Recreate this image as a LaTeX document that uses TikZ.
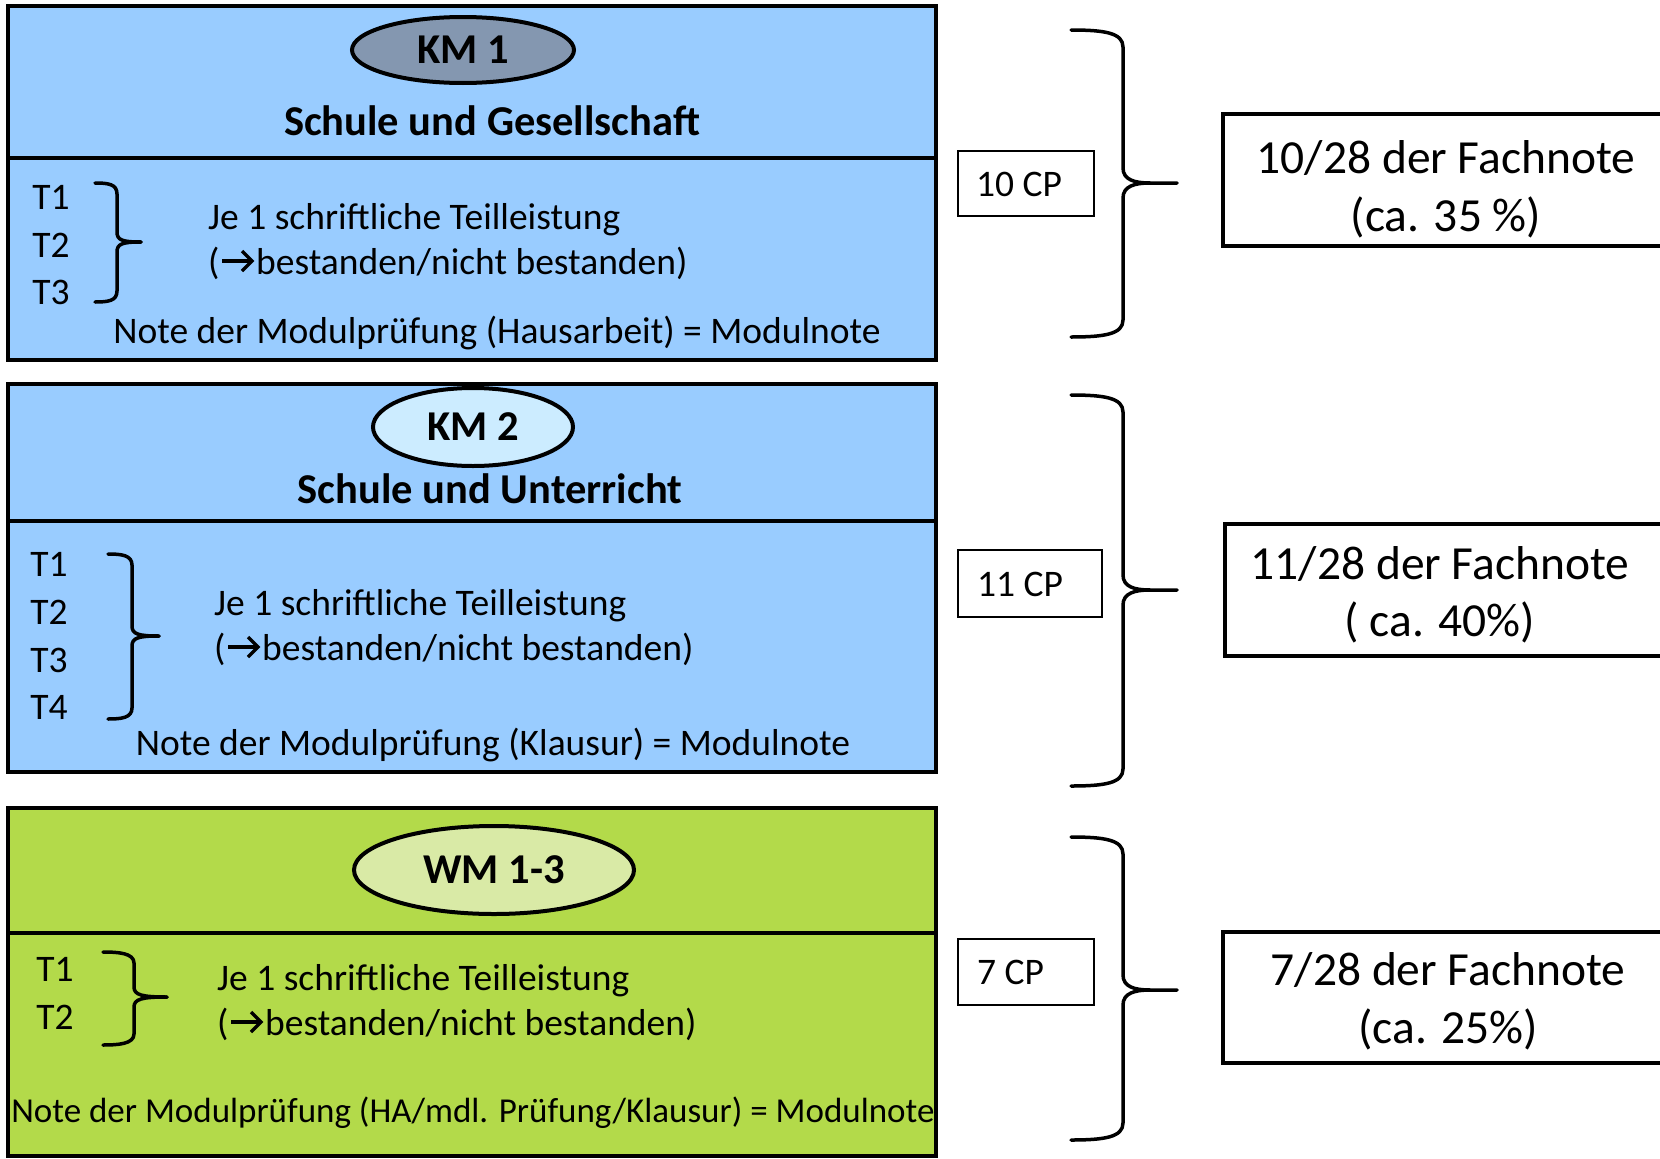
\documentclass[tikz,border=0pt]{standalone}
\usepackage{fontspec}
\setmainfont{Carlito}
\usetikzlibrary{shapes.geometric,calc}
\definecolor{boxblue}{HTML}{99CCFF}
\definecolor{boxgreen}{HTML}{B3DA4A}
\definecolor{ellgray}{HTML}{8497B0}
\definecolor{ellblue}{HTML}{CCECFF}
\definecolor{ellgreen}{HTML}{D9EAA6}
\newcommand\bodyfs{\fontsize{37.5}{44}\selectfont}
\newcommand\notefs{\fontsize{35}{42}\selectfont}
\newcommand\headfs{\fontsize{42.5}{50}\selectfont\bfseries}
\newcommand\bigfs{\fontsize{47.5}{56}\selectfont}
\begin{document}
\begin{tikzpicture}[x=1pt,y=-1pt,
  modbox/.style={draw=black,line width=4pt},
  divline/.style={draw=black,line width=4pt},
  modell/.style={ellipse,draw=black,line width=4pt,inner sep=0pt,font=\headfs},
  txt/.style={inner sep=0pt,font=\bodyfs},
  head/.style={inner sep=0pt,font=\headfs},
  bigtxt/.style={inner sep=0pt,font=\bigfs},
  cpbox/.style={draw=black,line width=1.3pt},
  resbox/.style={draw=black,line width=4.5pt},
  bracel/.style={draw=black,line width=3.5pt,line cap=round,line join=round},
  arrline/.style={draw=black,line width=3.4pt,line join=miter}
]
\useasboundingbox (0,0) rectangle (1660,1159);
\clip (0,0) rectangle (1660,1159);
\fill[white] (0,0) rectangle (1660,1159);

% ---------- Box 1 ----------
\path[modbox,fill=boxblue] (8,6) rectangle (936,360);
\draw[divline] (8,158) -- (938,158);
\node[modell,fill=ellgray,minimum width=222,minimum height=66] (km1) at (463,50) {KM 1};
\node[head,anchor=base] (h1) at (492,135) {Schule und Gesellschaft};
\node[txt,anchor=base] (a1) at (51,209) {T1};
\node[txt,anchor=base] (a2) at (51,257) {T2};
\node[txt,anchor=base] (a3) at (51,304) {T3};
\coordinate (s1t) at (95,183);
\coordinate (s1b) at (95,302);
\coordinate (s1m) at (141,242);
\draw[bracel] (s1t) .. controls (108,183) and (117,184) .. (117,194) -- (117,232) .. controls (117,240) and (122,242) .. (s1m);
\draw[bracel] (s1b) .. controls (108,302) and (117,301) .. (117,291) -- (117,252) .. controls (117,244) and (122,242) .. (s1m);
\node[txt,anchor=base west] (j1a) at (208,229) {Je 1 schriftliche Teilleistung};
\node[txt,anchor=base west] (p1) at (208,274) {(};
\coordinate (p1s) at (222,261);
\coordinate (p1e) at (252,261);
\draw[arrline] (p1s) -- (p1e);
\draw[arrline] ($(p1e)+(-10,-10)$) -- (p1e) -- ($(p1e)+(-10,10)$);
\node[txt,anchor=base west] (j1b) at (256,274) {bestanden/nicht bestanden)};
\node[txt,anchor=base] (n1) at (497,343) {Note der Modulprüfung (Hausarbeit) = Modulnote};

% ---------- Box 2 ----------
\path[modbox,fill=boxblue] (8,384) rectangle (936,772);
\draw[divline] (8,521) -- (936,521);
\node[modell,fill=ellblue,minimum width=200,minimum height=78] (km2) at (473,427) {KM 2};
\node[head,anchor=base] (h2) at (490,503) {Schule und Unterricht};
\node[txt,anchor=base] (b1) at (49,576) {T1};
\node[txt,anchor=base] (b2) at (49,624) {T2};
\node[txt,anchor=base] (b3) at (49,672) {T3};
\node[txt,anchor=base] (b4) at (49,719) {T4};
\coordinate (s2t) at (108,554);
\coordinate (s2b) at (108,719);
\coordinate (s2m) at (159,636);
\draw[bracel] (s2t) .. controls (121,554) and (132,555) .. (132,565) -- (132,626) .. controls (132,634) and (138,636) .. (s2m);
\draw[bracel] (s2b) .. controls (121,719) and (132,718) .. (132,708) -- (132,646) .. controls (132,638) and (138,636) .. (s2m);
\node[txt,anchor=base west] (j2a) at (214,615) {Je 1 schriftliche Teilleistung};
\node[txt,anchor=base west] (p2) at (214,660) {(};
\coordinate (p2s) at (228,647);
\coordinate (p2e) at (258,647);
\draw[arrline] (p2s) -- (p2e);
\draw[arrline] ($(p2e)+(-10,-10)$) -- (p2e) -- ($(p2e)+(-10,10)$);
\node[txt,anchor=base west] (j2b) at (262,660) {bestanden/nicht bestanden)};
\node[txt,anchor=base] (n2) at (493,755) {Note der Modulprüfung (Klausur) = Modulnote};

% ---------- Box 3 ----------
\path[modbox,fill=boxgreen] (8,808) rectangle (936,1156);
\draw[divline] (8,933) -- (936,933);
\node[modell,fill=ellgreen,minimum width=280,minimum height=88] (wm) at (494,870) {WM 1-3};
\node[txt,anchor=base] (c1) at (55,981) {T1};
\node[txt,anchor=base] (c2) at (55,1029) {T2};
\coordinate (s3t) at (103,952);
\coordinate (s3b) at (103,1045);
\coordinate (s3m) at (167,997);
\draw[bracel] (s3t) .. controls (118,952) and (134,953) .. (134,963) -- (134,987) .. controls (134,995) and (142,997) .. (s3m);
\draw[bracel] (s3b) .. controls (118,1045) and (134,1044) .. (134,1034) -- (134,1007) .. controls (134,999) and (142,997) .. (s3m);
\node[txt,anchor=base west] (j3a) at (217,990) {Je 1 schriftliche Teilleistung};
\node[txt,anchor=base west] (p3) at (217,1035) {(};
\coordinate (p3s) at (231,1022);
\coordinate (p3e) at (261,1022);
\draw[arrline] (p3s) -- (p3e);
\draw[arrline] ($(p3e)+(-10,-10)$) -- (p3e) -- ($(p3e)+(-10,10)$);
\node[txt,anchor=base west] (j3b) at (265,1035) {bestanden/nicht bestanden)};
\node[inner sep=0pt,font=\notefs,anchor=base] (n3) at (473,1122) {Note der Modulprüfung (HA/mdl. Prüfung/Klausur) = Modulnote};

% ---------- CP boxes ----------
\path[cpbox,fill=white] (958,151) rectangle (1094,216);
\node[txt,anchor=base west] (cp1) at (976,196) {10 CP};
\path[cpbox,fill=white] (958,550) rectangle (1102,617);
\node[txt,anchor=base west] (cp2) at (977,596) {11 CP};
\path[cpbox,fill=white] (958,939) rectangle (1094,1005);
\node[txt,anchor=base west] (cp3) at (977,984) {7 CP};

% ---------- Big braces ----------
\coordinate (B1t) at (1071,30);  \coordinate (B1b) at (1071,337); \coordinate (B1m) at (1177,183);
\coordinate (B2t) at (1071,395); \coordinate (B2b) at (1071,786); \coordinate (B2m) at (1177,590);
\coordinate (B3t) at (1071,837); \coordinate (B3b) at (1071,1140); \coordinate (B3m) at (1177,990);
\draw[bracel] (B1t) .. controls (1105,30) and (1123,33) .. (1123,47) -- (1123,168) .. controls (1123,180) and (1135,183) .. (1150,183) -- (B1m);
\draw[bracel] (B1b) .. controls (1105,337) and (1123,334) .. (1123,320) -- (1123,198) .. controls (1123,186) and (1135,183) .. (1150,183);
\draw[bracel] (B2t) .. controls (1105,395) and (1123,398) .. (1123,412) -- (1123,575) .. controls (1123,587) and (1135,590) .. (1150,590) -- (B2m);
\draw[bracel] (B2b) .. controls (1105,786) and (1123,783) .. (1123,769) -- (1123,605) .. controls (1123,593) and (1135,590) .. (1150,590);
\draw[bracel] (B3t) .. controls (1105,837) and (1123,840) .. (1123,854) -- (1123,975) .. controls (1123,987) and (1135,990) .. (1150,990) -- (B3m);
\draw[bracel] (B3b) .. controls (1105,1140) and (1123,1137) .. (1123,1123) -- (1123,1005) .. controls (1123,993) and (1135,990) .. (1150,990);

% ---------- Result boxes ----------
\path[resbox,fill=white] (1223,114) rectangle (1668,246);
\node[bigtxt,anchor=base] (r1a) at (1446,173) {10/28 der Fachnote};
\node[bigtxt,anchor=base] (r1b) at (1446,231) {(ca. 35 \%)};
\path[resbox,fill=white] (1225,524) rectangle (1668,656);
\node[bigtxt,anchor=base] (r2a) at (1440,579) {11/28 der Fachnote};
\node[bigtxt,anchor=base] (r2b) at (1440,636) {( ca. 40\%)};
\path[resbox,fill=white] (1223,932) rectangle (1668,1063);
\node[bigtxt,anchor=base] (r3a) at (1448,985) {7/28 der Fachnote};
\node[bigtxt,anchor=base] (r3b) at (1448,1043) {(ca. 25\%)};
\end{tikzpicture}
\end{document}
